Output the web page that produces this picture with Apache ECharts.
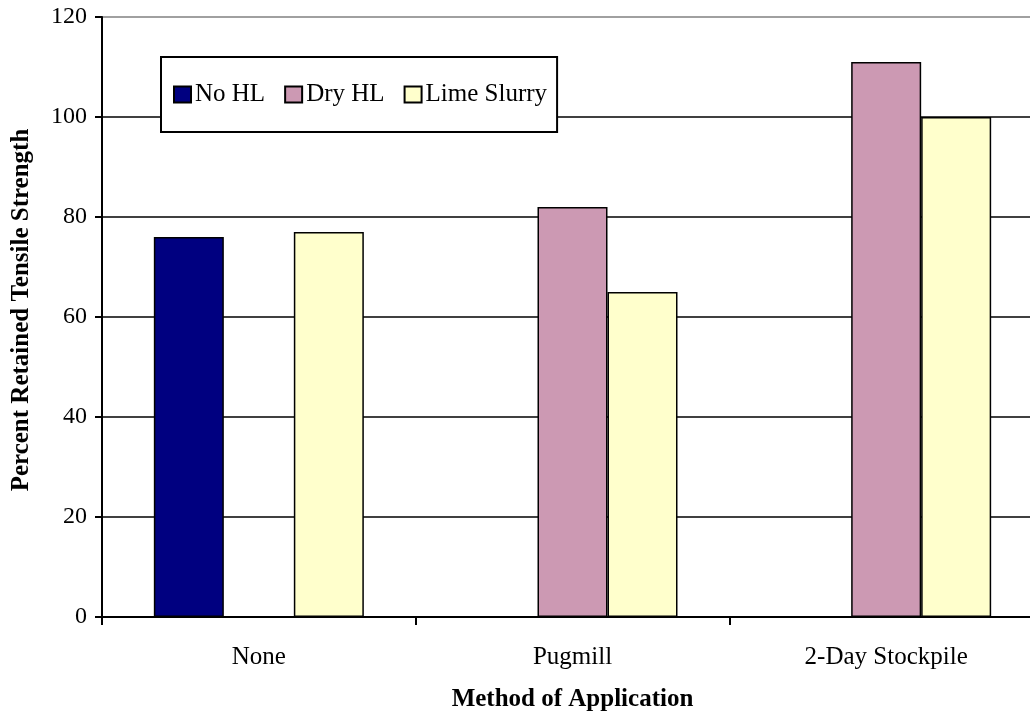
<!DOCTYPE html>
<html>
<head>
<meta charset="utf-8">
<title>Percent Retained Tensile Strength by Method of Application</title>
<script src="https://cdn.jsdelivr.net/npm/echarts@6/dist/echarts.min.js"></script>
<style>
  html, body { margin: 0; padding: 0; background: #ffffff; }
  #chart { width: 1030px; height: 714px; }
</style>
</head>
<body>
<div id="chart"></div>
<script>
// Application methods along the x axis
const methods = ['None', 'Pugmill', '2-Day Stockpile'];

// Retained tensile strength (%) for each lime treatment
const noHL = [76, null, null];
const dryHL = [null, 82, 111];
const limeSlurry = [77, 65, 100];

// Value axis ticks
const yTicks = [0, 20, 40, 60, 80, 100, 120];

const FONT = '"Liberation Serif", "Times New Roman", serif';

const chart = echarts.init(document.getElementById('chart'), null, { renderer: 'canvas' });

const barBorder = { borderColor: '#000000', borderWidth: 1.5 };

chart.setOption({
  animation: false,
  backgroundColor: '#ffffff',
  textStyle: { fontFamily: FONT },
  // plot area runs past the right edge of the canvas
  grid: {
    left: 102, width: 941, top: 17, height: 600,
    containLabel: false,
    outerBoundsMode: 'none'
  },
  legend: {
    left: 161,
    top: 57,
    orient: 'horizontal',
    padding: [25, 10, 25, 12],
    itemWidth: 17,
    itemHeight: 16,
    itemGap: 19,
    backgroundColor: '#ffffff',
    borderColor: '#000000',
    borderWidth: 2,
    borderRadius: 0,
    icon: 'rect',
    textStyle: { fontFamily: FONT, fontSize: 25, color: '#000000', padding: [0, 0, 0, -1] },
    data: ['No HL', 'Dry HL', 'Lime Slurry']
  },
  xAxis: {
    type: 'category',
    data: methods,
    name: 'Method of Application',
    nameLocation: 'middle',
    nameGap: 70,
    nameTextStyle: { fontFamily: FONT, fontSize: 25, fontWeight: 'bold', color: '#000000', padding: [0, 0, 0, 0] },
    axisLine: { show: true, lineStyle: { color: '#000000', width: 2 } },
    axisTick: { show: true, inside: false, length: 8, alignWithLabel: false, lineStyle: { color: '#000000', width: 2 } },
    axisLabel: { fontFamily: FONT, fontSize: 25, color: '#000000', margin: 28 },
    splitLine: { show: false }
  },
  yAxis: {
    type: 'value',
    min: yTicks[0],
    max: yTicks[yTicks.length - 1],
    interval: yTicks[1] - yTicks[0],
    name: 'Percent Retained Tensile Strength',
    nameLocation: 'middle',
    nameGap: 68,
    nameRotate: 90,
    nameTextStyle: { fontFamily: FONT, fontSize: 25, fontWeight: 'bold', color: '#000000', padding: [0, 0, 0, 14] },
    axisLine: { show: true, lineStyle: { color: '#000000', width: 2 } },
    axisTick: { show: true, inside: false, length: 7, lineStyle: { color: '#000000', width: 2 } },
    axisLabel: { fontFamily: FONT, fontSize: 24, color: '#000000', margin: 15 },
    splitLine: {
      show: true,
      lineStyle: {
        color: ['#000000', '#000000', '#000000', '#000000', '#000000', '#000000', '#808080'],
        width: 1.5
      }
    }
  },
  series: [
    {
      name: 'No HL',
      type: 'bar',
      data: noHL,
      barWidth: 70,
      barGap: '0%',
      itemStyle: Object.assign({ color: '#000080' }, barBorder)
    },
    {
      name: 'Dry HL',
      type: 'bar',
      data: dryHL,
      barWidth: 70,
      barGap: '0%',
      itemStyle: Object.assign({ color: '#cc99b3' }, barBorder)
    },
    {
      name: 'Lime Slurry',
      type: 'bar',
      data: limeSlurry,
      barWidth: 70,
      barGap: '0%',
      itemStyle: Object.assign({ color: '#ffffcc' }, barBorder)
    }
  ]
});
</script>
</body>
</html>
